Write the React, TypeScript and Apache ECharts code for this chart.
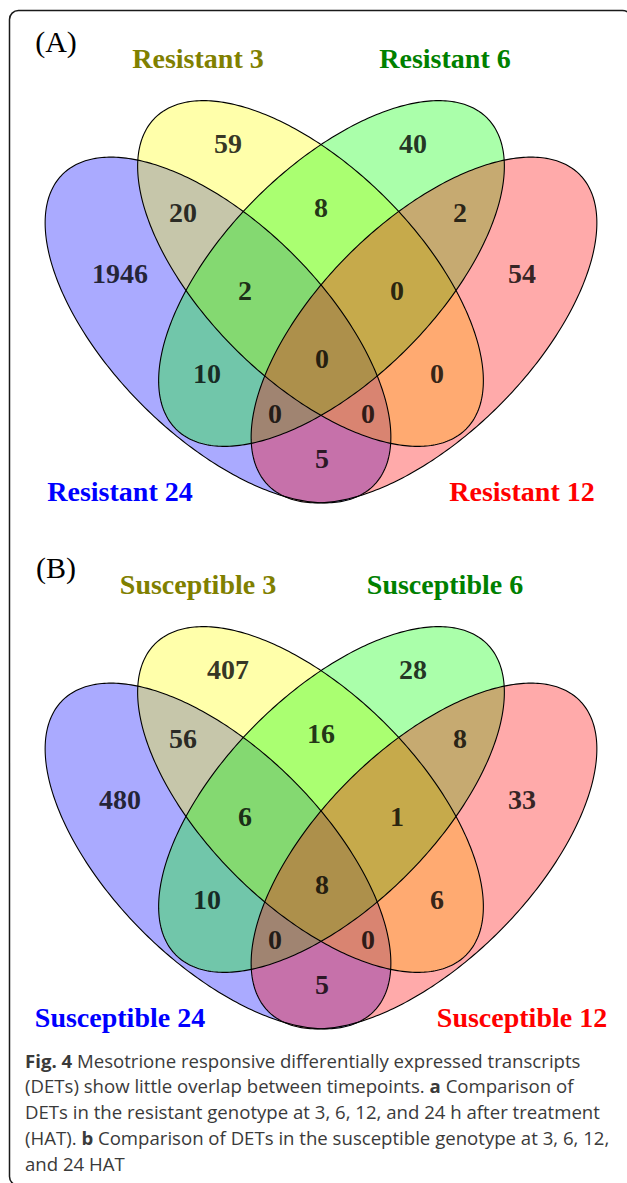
import React, { useEffect, useRef } from "react";
import * as echarts from "echarts";

// ---- data ----
const SETS_A = ["Resistant 24", "Resistant 3", "Resistant 6", "Resistant 12"];
const SETS_B = ["Susceptible 24", "Susceptible 3", "Susceptible 6", "Susceptible 12"];
// region order: 24, 3, 6, 12, 24∩3, 3∩6, 6∩12, 24∩12, 24∩3∩6, 3∩6∩12, all, 24∩6, 3∩12, 24∩6∩12, 24∩3∩12
const REGIONS = ["24", "3", "6", "12", "24&3", "3&6", "6&12", "24&12", "24&3&6", "3&6&12", "24&3&6&12", "24&6", "3&12", "24&6&12", "24&3&12"];
const COUNTS_A = [1946, 59, 40, 54, 20, 8, 2, 5, 2, 0, 0, 10, 0, 0, 0];
const COUNTS_B = [480, 407, 28, 33, 56, 16, 8, 5, 6, 1, 8, 10, 6, 0, 0];

// ---- layout (panel coordinates) ----
const PANEL_W = 627;
const PANEL_H = 526;
// ellipse: cx, cy, semi-major, semi-minor, angle (deg)
const ELLIPSES = [
  [218, 330, 220, 106.6, 45],
  [310.5, 273.5, 220, 106.6, 45],
  [331.5, 273.5, 220, 106.6, -45],
  [424, 330, 220, 106.6, -45],
];
const FILLS = ["rgba(0,0,255,0.335)", "rgba(255,255,0,0.335)", "rgba(0,255,0,0.335)", "rgba(255,0,0,0.335)"];
const SET_COLORS = ["#0000FF", "#808000", "#008000", "#FF0000"];
const LABEL_POS = [
  [120, 273], [228, 143], [413, 143], [522, 273],
  [183, 212], [321, 207], [460, 212], [322, 458],
  [245, 290], [397, 290], [322, 358], [207, 373],
  [437, 373], [275, 413], [368, 413],
];
const SET_LABEL_POS = [[120, 491], [198, 58], [445, 58], [522, 491]];

const CAPTION = [
  "{b|Fig. 4} Mesotrione responsive differentially expressed transcripts",
  "(DETs) show little overlap between timepoints. {b|a} Comparison of",
  "DETs in the resistant genotype at 3, 6, 12, and 24 h after treatment",
  "(HAT). {b|b} Comparison of DETs in the susceptible genotype at 3, 6, 12,",
  "and 24 HAT",
];

const SERIF = '"Liberation Serif", "Times New Roman", serif';
const SANS = '"Open Sans", "Noto Sans", sans-serif';

function ellipseSeries(gridIndex: number, mode: "fill" | "stroke") {
  return {
    type: "custom",
    xAxisIndex: gridIndex,
    yAxisIndex: gridIndex,
    silent: true,
    data: ELLIPSES,
    renderItem: (params: any, api: any) => {
      const cx = api.value(0), cy = api.value(1), a = api.value(2), b = api.value(3);
      const ang = (api.value(4) * Math.PI) / 180;
      const pts: number[][] = [];
      const N = 360;
      for (let k = 0; k < N; k++) {
        const t = (k / N) * Math.PI * 2;
        const x = cx + a * Math.cos(t) * Math.cos(ang) - b * Math.sin(t) * Math.sin(ang);
        const y = cy + a * Math.cos(t) * Math.sin(ang) + b * Math.sin(t) * Math.cos(ang);
        pts.push(api.coord([x, y]));
      }
      return {
        type: "polygon",
        shape: { points: pts },
        style:
          mode === "fill"
            ? { fill: FILLS[params.dataIndex], stroke: "none" }
            : { fill: "none", stroke: "#000", lineWidth: 1.1 },
      };
    },
  };
}

function labelSeries(gridIndex: number, counts: number[]) {
  return {
    type: "scatter",
    xAxisIndex: gridIndex,
    yAxisIndex: gridIndex,
    silent: true,
    symbolSize: 1,
    itemStyle: { color: "transparent" },
    data: LABEL_POS.map((p, i) => ({ name: REGIONS[i], value: [p[0], p[1], counts[i]] })),
    label: {
      show: true,
      position: "inside",
      formatter: (p: any) => String(p.value[2]),
      fontSize: 28,
      fontWeight: "bold",
      fontFamily: SERIF,
      color: "#000",
    },
  };
}

export default function App() {
  const ref = useRef<HTMLDivElement>(null);
  useEffect(() => {
    if (!ref.current) return;
    const chart = echarts.init(ref.current, null, { renderer: "svg" });
    const graphics: any[] = [
      {
        type: "rect",
        shape: { x: 9.5, y: 10.5, width: 622, height: 1175, r: 9 },
        style: { fill: "none", stroke: "#1a1a1a", lineWidth: 1.5 },
        silent: true,
      },
    ];
    [0, 1].forEach((pi) => {
      const names = pi === 0 ? SETS_A : SETS_B;
      const off = pi * PANEL_H;
      graphics.push({
        type: "text",
        x: 56,
        y: 41 + off,
        style: { text: pi === 0 ? "(A)" : "(B)", font: `30px ${SERIF}`, fill: "#000", align: "center", verticalAlign: "middle" },
      });
      names.forEach((n, i) => {
        graphics.push({
          type: "text",
          x: SET_LABEL_POS[i][0],
          y: SET_LABEL_POS[i][1] + off,
          style: { text: n, font: `bold 28px ${SERIF}`, fill: SET_COLORS[i], align: "center", verticalAlign: "middle" },
        });
      });
    });
    CAPTION.forEach((line, i) => {
      graphics.push({
        type: "text",
        x: 25,
        y: 1060 + i * 25.8,
        style: {
          text: line,
          font: `18.6px ${SANS}`,
          fill: "#3a3a3a",
          align: "left",
          verticalAlign: "middle",
          rich: { b: { fontWeight: "bold", fontSize: 18.6, fontFamily: SANS, fill: "#3a3a3a" } },
        },
      });
    });
    chart.setOption({
      animation: false,
      grid: [
        { left: 0, top: 0, width: PANEL_W, height: PANEL_H },
        { left: 0, top: PANEL_H, width: PANEL_W, height: PANEL_H },
      ],
      xAxis: [0, 1].map((i) => ({ type: "value", gridIndex: i, min: 0, max: PANEL_W, show: false })),
      yAxis: [0, 1].map((i) => ({ type: "value", gridIndex: i, min: 0, max: PANEL_H, inverse: true, show: false })),
      series: [
        ellipseSeries(0, "fill"),
        ellipseSeries(0, "stroke"),
        labelSeries(0, COUNTS_A),
        ellipseSeries(1, "fill"),
        ellipseSeries(1, "stroke"),
        labelSeries(1, COUNTS_B),
      ],
      graphic: graphics,
    });
    return () => chart.dispose();
  }, []);
  return (
    <div
      ref={ref}
      style={{ position: "fixed", left: 0, top: 0, width: 627, height: 1183, background: "#fff" }}
    />
  );
}
